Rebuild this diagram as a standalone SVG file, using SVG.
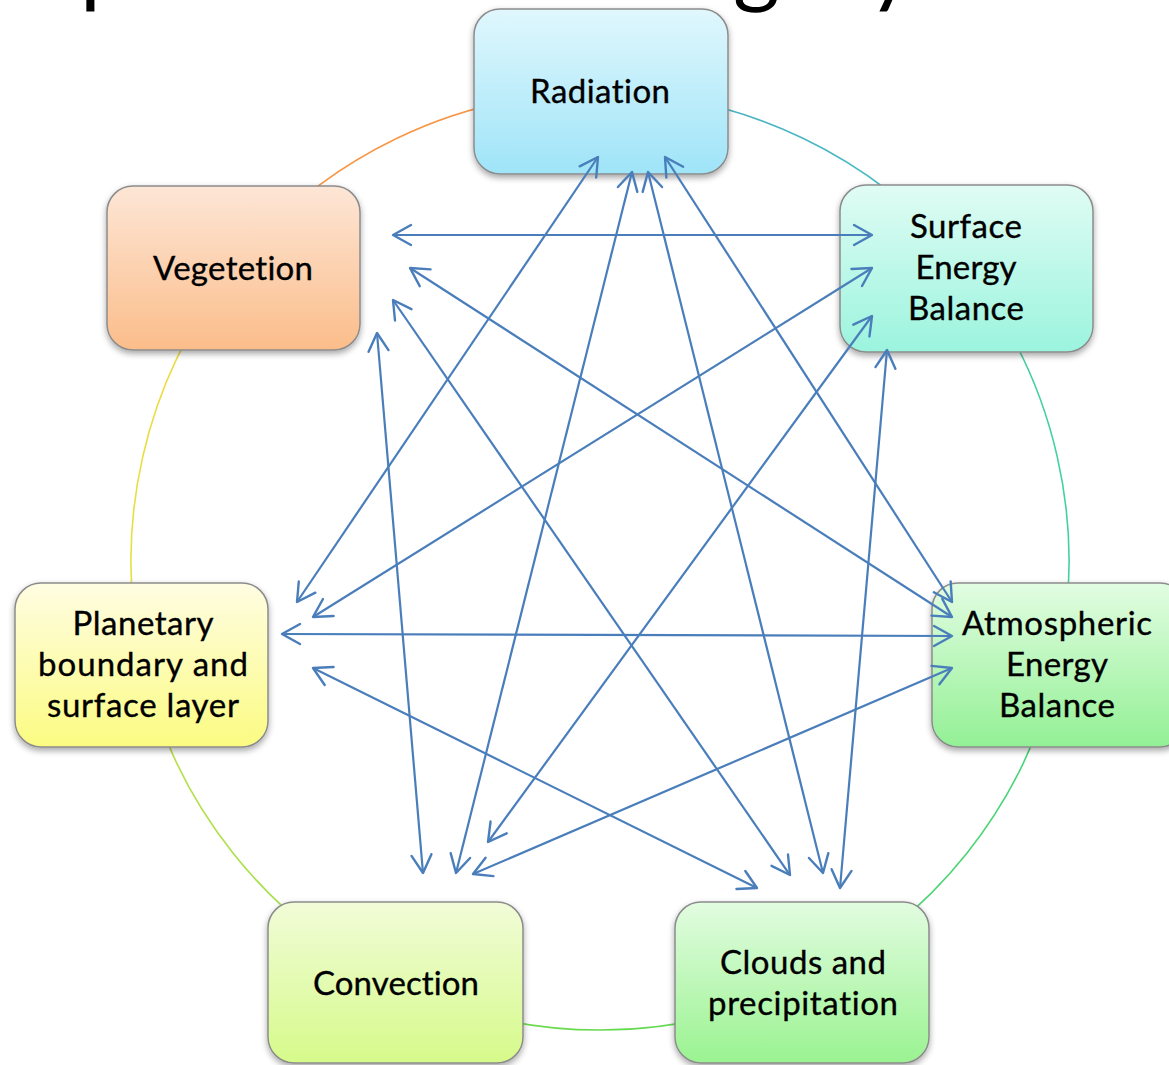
<svg xmlns="http://www.w3.org/2000/svg" width="1169" height="1065" viewBox="0 0 1169 1065">
<style>
.box{stroke:#8c8c8c;stroke-width:1.5;filter:url(#sh)}
.lbl{font-family:Lato,"Liberation Sans",sans-serif;font-size:33px;fill:#000;stroke:#000;stroke-width:0.35;text-anchor:middle;font-variant-ligatures:none}
.title{font-family:Lato,"Liberation Sans",sans-serif;font-size:90px;fill:#000;font-variant-ligatures:none}
.ring{fill:none;stroke-width:1.6}
.arr{fill:none;stroke:#4a7ebb;stroke-width:2.2;marker-start:url(#ah);marker-end:url(#ah)}
</style>
<defs>
<filter id="sh" x="-10%" y="-10%" width="120%" height="130%">
<feDropShadow dx="0" dy="3" stdDeviation="3" flood-color="#000" flood-opacity="0.35"/>
</filter>
<marker id="ah" viewBox="-20 -12 22 24" markerUnits="userSpaceOnUse" markerWidth="22" markerHeight="24" refX="0" refY="0" orient="auto-start-reverse">
<path d="M-18,-10 L0,0 L-18,10" fill="none" stroke="#4a7ebb" stroke-width="2.4" stroke-linecap="round" stroke-linejoin="round"/>
</marker>
<linearGradient id="gRad" x1="0" y1="0" x2="0" y2="1"><stop offset="0" stop-color="#e0f7fd"/><stop offset="1" stop-color="#9fe4f8"/></linearGradient>
<linearGradient id="gVeg" x1="0" y1="0" x2="0" y2="1"><stop offset="0" stop-color="#fde6d6"/><stop offset="1" stop-color="#fbbd8a"/></linearGradient>
<linearGradient id="gSur" x1="0" y1="0" x2="0" y2="1"><stop offset="0" stop-color="#e0fcf4"/><stop offset="1" stop-color="#9bf4de"/></linearGradient>
<linearGradient id="gAtm" x1="0" y1="0" x2="0" y2="1"><stop offset="0" stop-color="#e2fde2"/><stop offset="1" stop-color="#93f095"/></linearGradient>
<linearGradient id="gClo" x1="0" y1="0" x2="0" y2="1"><stop offset="0" stop-color="#e2fce0"/><stop offset="1" stop-color="#9af391"/></linearGradient>
<linearGradient id="gCon" x1="0" y1="0" x2="0" y2="1"><stop offset="0" stop-color="#f1fcd8"/><stop offset="1" stop-color="#d6fa8a"/></linearGradient>
<linearGradient id="gPla" x1="0" y1="0" x2="0" y2="1"><stop offset="0" stop-color="#fffde2"/><stop offset="1" stop-color="#fbfb82"/></linearGradient>
<linearGradient id="r1" gradientUnits="userSpaceOnUse" x1="233" y1="268" x2="600" y2="92"><stop offset="0" stop-color="#f79646"/><stop offset="1" stop-color="#f79646"/></linearGradient>
<linearGradient id="r2" gradientUnits="userSpaceOnUse" x1="600" y1="92" x2="967" y2="268"><stop offset="0" stop-color="#4bacc6"/><stop offset="1" stop-color="#48c0c0"/></linearGradient>
<linearGradient id="r3" gradientUnits="userSpaceOnUse" x1="967" y1="268" x2="1057" y2="665"><stop offset="0" stop-color="#40cca8"/><stop offset="1" stop-color="#44d49a"/></linearGradient>
<linearGradient id="r4" gradientUnits="userSpaceOnUse" x1="1057" y1="665" x2="803" y2="984"><stop offset="0" stop-color="#46d47c"/><stop offset="1" stop-color="#4fd46a"/></linearGradient>
<linearGradient id="r5" gradientUnits="userSpaceOnUse" x1="803" y1="984" x2="396" y2="984"><stop offset="0" stop-color="#58d858"/><stop offset="1" stop-color="#78dc48"/></linearGradient>
<linearGradient id="r6" gradientUnits="userSpaceOnUse" x1="396" y1="984" x2="143" y2="665"><stop offset="0" stop-color="#96e04a"/><stop offset="1" stop-color="#c0e044"/></linearGradient>
<linearGradient id="r7" gradientUnits="userSpaceOnUse" x1="143" y1="665" x2="233" y2="268"><stop offset="0" stop-color="#e0e244"/><stop offset="1" stop-color="#f2d840"/></linearGradient>
</defs>
<rect width="1169" height="1065" fill="#fff"/>

<g id="title">
<text class="title" x="80" y="-4">p</text>
<text class="title" x="733" y="-4">g</text>
<text class="title" x="868" y="-4">y</text>
</g>

<g id="ring">
<path class="ring" stroke="url(#r1)" d="M233.3,268.6 A469,469 0 0 1 600,92"/>
<path class="ring" stroke="url(#r2)" d="M600,92 A469,469 0 0 1 966.7,268.6"/>
<path class="ring" stroke="url(#r3)" d="M966.7,268.6 A469,469 0 0 1 1057.2,665.4"/>
<path class="ring" stroke="url(#r4)" d="M1057.2,665.4 A469,469 0 0 1 803.5,983.6"/>
<path class="ring" stroke="url(#r5)" d="M803.5,983.6 A469,469 0 0 1 396.5,983.6"/>
<path class="ring" stroke="url(#r6)" d="M396.5,983.6 A469,469 0 0 1 142.8,665.4"/>
<path class="ring" stroke="url(#r7)" d="M142.8,665.4 A469,469 0 0 1 233.3,268.6"/>
</g>

<g id="radiation">
<rect class="box" x="474" y="9" width="254" height="165" rx="26" fill="url(#gRad)"/>
<text class="lbl" x="600" y="103" textLength="140">Radiation</text>
</g>
<g id="vegetation">
<rect class="box" x="107" y="186" width="253" height="164" rx="26" fill="url(#gVeg)"/>
<text class="lbl" x="233" y="280" textLength="160">Vegetetion</text>
</g>
<g id="surface-energy-balance">
<rect class="box" x="840" y="185" width="253" height="167" rx="26" fill="url(#gSur)"/>
<text class="lbl" x="966" y="238" textLength="112">Surface</text>
<text class="lbl" x="966" y="279" textLength="101">Energy</text>
<text class="lbl" x="966" y="320" textLength="116">Balance</text>
</g>
<g id="planetary-boundary">
<rect class="box" x="15" y="583" width="253" height="164" rx="26" fill="url(#gPla)"/>
<text class="lbl" x="143" y="635" textLength="141">Planetary</text>
<text class="lbl" x="143" y="676" textLength="210">boundary and</text>
<text class="lbl" x="143" y="717" textLength="192">surface layer</text>
</g>
<g id="atmospheric-energy-balance">
<rect class="box" x="932" y="583" width="254" height="164" rx="26" fill="url(#gAtm)"/>
<text class="lbl" x="1057" y="635" textLength="190">Atmospheric</text>
<text class="lbl" x="1057" y="676" textLength="102">Energy</text>
<text class="lbl" x="1057" y="717" textLength="116">Balance</text>
</g>
<g id="convection">
<rect class="box" x="268" y="902" width="255" height="161" rx="26" fill="url(#gCon)"/>
<text class="lbl" x="396" y="995" textLength="166">Convection</text>
</g>
<g id="clouds-precipitation">
<rect class="box" x="675" y="902" width="254" height="161" rx="26" fill="url(#gClo)"/>
<text class="lbl" x="803" y="974" textLength="166">Clouds and</text>
<text class="lbl" x="803" y="1015" textLength="190">precipitation</text>
</g>

<g id="connectors">
<line class="arr" x1="393" y1="235" x2="872" y2="235"/>
<line class="arr" x1="410" y1="268" x2="952" y2="617"/>
<line class="arr" x1="393" y1="300" x2="790" y2="875"/>
<line class="arr" x1="377" y1="333" x2="423" y2="873"/>
<line class="arr" x1="598" y1="157" x2="297" y2="602"/>
<line class="arr" x1="632" y1="172" x2="456" y2="873"/>
<line class="arr" x1="648" y1="172" x2="823" y2="873"/>
<line class="arr" x1="665" y1="157" x2="952" y2="602"/>
<line class="arr" x1="872" y1="268" x2="313" y2="617"/>
<line class="arr" x1="872" y1="316" x2="488" y2="842"/>
<line class="arr" x1="887" y1="350" x2="840" y2="888"/>
<line class="arr" x1="282" y1="634" x2="952" y2="636"/>
<line class="arr" x1="313" y1="668" x2="757" y2="888"/>
<line class="arr" x1="952" y1="668" x2="473" y2="874"/>
</g>
</svg>
